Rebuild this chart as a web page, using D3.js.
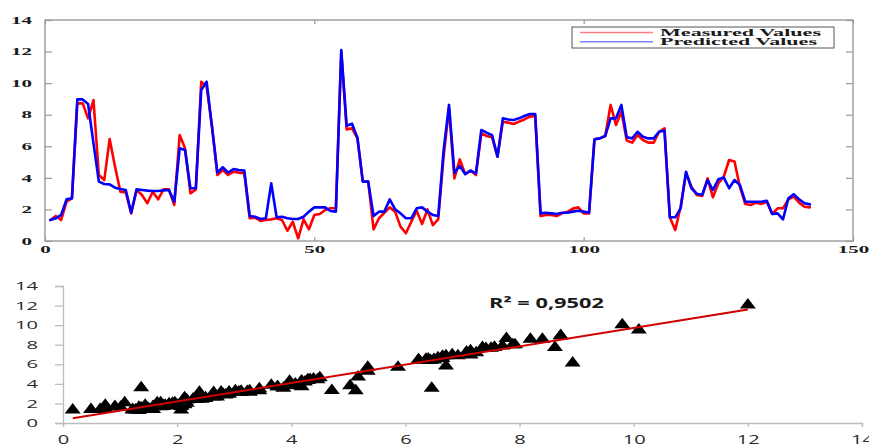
<!DOCTYPE html>
<html>
<head>
<meta charset="utf-8">
<script src="https://cdn.jsdelivr.net/npm/d3@7/dist/d3.min.js"></script>
<style>
  html, body { margin: 0; padding: 0; background: #fff; }
  svg { display: block; }
</style>
</head>
<body>
<svg id="chart" width="869" height="446"></svg>
<script>
// Sample index (1..142) for the time-series panel
const sampleIndex = d3.range(1, 143);

// Measured values per sample
const measured = [
  1.33, 1.58, 1.33, 2.50, 2.70, 8.72, 8.72, 7.77, 8.93, 4.18,
  3.86, 6.46, 4.71, 3.12, 3.08, 1.75, 3.23, 2.91, 2.39, 3.12,
  2.64, 3.27, 3.27, 2.28, 6.71, 5.87, 3.02, 3.27, 10.09, 9.80,
  7.24, 4.18, 4.50, 4.18, 4.39, 4.33, 4.29, 1.44, 1.48, 1.27,
  1.33, 1.37, 1.44, 1.33, 0.65, 1.22, 0.17, 1.37, 0.74, 1.65,
  1.71, 1.96, 2.07, 2.07, 12.00, 7.07, 7.14, 6.50, 3.76, 3.76,
  0.74, 1.44, 1.79, 2.13, 1.86, 0.91, 0.49, 1.22, 1.92, 1.08,
  2.00, 1.01, 1.37, 5.34, 8.40, 3.97, 5.17, 4.24, 4.46, 4.18,
  6.82, 6.65, 6.57, 5.34, 7.56, 7.50, 7.41, 7.56, 7.70, 7.88,
  7.92, 1.58, 1.65, 1.65, 1.58, 1.75, 1.85, 2.05, 2.13, 1.75,
  1.75, 6.44, 6.50, 6.65, 8.62, 7.35, 8.19, 6.36, 6.23, 6.71,
  6.40, 6.23, 6.23, 6.92, 7.14, 1.50, 0.70, 2.17, 4.29, 3.44,
  2.91, 2.85, 3.97, 2.77, 3.65, 4.07, 5.13, 5.03, 3.44, 2.34,
  2.28, 2.43, 2.34, 2.49, 1.71, 2.07, 2.07, 2.64, 2.81, 2.43,
  2.17, 2.13
];

// Predicted values per sample
const predicted = [
  1.33, 1.44, 1.65, 2.64, 2.70, 8.97, 8.97, 8.68, 6.19, 3.76,
  3.61, 3.59, 3.38, 3.29, 3.23, 1.79, 3.27, 3.23, 3.19, 3.17,
  3.17, 3.21, 3.23, 2.49, 5.87, 5.76, 3.34, 3.34, 9.56, 10.09,
  7.24, 4.33, 4.67, 4.33, 4.56, 4.50, 4.46, 1.58, 1.54, 1.39,
  1.44, 3.65, 1.50, 1.54, 1.44, 1.39, 1.39, 1.54, 1.86, 2.13,
  2.13, 2.13, 1.90, 1.86, 12.10, 7.30, 7.43, 6.55, 3.76, 3.76,
  1.58, 1.86, 1.86, 2.64, 2.01, 1.75, 1.44, 1.44, 2.07, 2.13,
  1.86, 1.65, 1.58, 5.76, 8.62, 4.33, 4.75, 4.24, 4.46, 4.29,
  7.03, 6.86, 6.71, 5.34, 7.77, 7.70, 7.66, 7.77, 7.92, 8.05,
  8.05, 1.75, 1.79, 1.75, 1.71, 1.79, 1.79, 1.86, 1.92, 1.86,
  1.79, 6.44, 6.50, 6.65, 7.77, 7.77, 8.62, 6.57, 6.50, 6.92,
  6.60, 6.50, 6.50, 6.92, 7.00, 1.50, 1.50, 2.07, 4.39, 3.34,
  3.00, 2.92, 3.86, 3.23, 3.91, 4.03, 3.34, 3.86, 3.55, 2.49,
  2.49, 2.49, 2.49, 2.55, 1.71, 1.75, 1.37, 2.70, 2.96, 2.64,
  2.39, 2.32
];

const seriesNames = ["Measured Values", "Predicted Values"];
const seriesColors = ["#ff0000", "#0000ff"];

const topXTicks = [0, 50, 100, 150];
const topYTicks = [0, 2, 4, 6, 8, 10, 12, 14];
const scatterXTicks = [0, 2, 4, 6, 8, 10, 12, 14];
const scatterYTicks = [0, 2, 4, 6, 8, 10, 12, 14];
const r2Label = "R² = 0,9502";

const svg = d3.select("#chart");

// Stretch text horizontally to a fixed width per character
function widen(sel, perChar) {
  sel.attr("textLength", function () { return this.textContent.length * perChar; })
     .attr("lengthAdjust", "spacingAndGlyphs");
}

// ---------- Time series panel ----------
const xTop = d3.scaleLinear().domain([0, 150]).range([45, 853]);
const yTop = d3.scaleLinear().domain([0, 14]).range([241, 20]);

const serif = "'Liberation Serif', 'DejaVu Serif', serif";
const frameColor = "#9a9a9a";

svg.append("rect")
  .attr("x", xTop(0)).attr("y", yTop(14))
  .attr("width", xTop(150) - xTop(0)).attr("height", yTop(0) - yTop(14))
  .attr("fill", "none").attr("stroke", frameColor).attr("stroke-width", 1.4);

function styleTopAxis(g, labelled) {
  g.select(".domain").remove();
  g.selectAll(".tick line").attr("stroke", frameColor).attr("stroke-width", 1.2);
  const t = g.selectAll(".tick text")
    .attr("font-family", serif).attr("font-weight", "bold")
    .attr("font-size", 10).attr("fill", "#1a1a1a");
  if (labelled) widen(t, 10.5);
}

svg.append("g").attr("transform", `translate(${xTop(0)},0)`)
  .call(d3.axisLeft(yTop).tickValues(topYTicks).tickSize(-7).tickPadding(13))
  .call(g => styleTopAxis(g, true));
svg.append("g").attr("transform", `translate(${xTop(150)},0)`)
  .call(d3.axisRight(yTop).tickValues(topYTicks).tickSize(-7).tickFormat(""))
  .call(g => styleTopAxis(g, false));
svg.append("g").attr("transform", `translate(0,${yTop(0)})`)
  .call(d3.axisBottom(xTop).tickValues(topXTicks).tickSize(-4).tickPadding(5))
  .call(g => styleTopAxis(g, true));
svg.append("g").attr("transform", `translate(0,${yTop(14)})`)
  .call(d3.axisTop(xTop).tickValues(topXTicks).tickSize(-4).tickFormat(""))
  .call(g => styleTopAxis(g, false));

const lineTop = values => d3.line()
  .x((d, i) => xTop(sampleIndex[i]))
  .y(d => yTop(d))(values);

[measured, predicted].forEach((vals, k) => {
  svg.append("path")
    .attr("d", lineTop(vals))
    .attr("fill", "none")
    .attr("stroke", seriesColors[k])
    .attr("stroke-width", 2.6)
    .attr("stroke-linejoin", "round")
    .attr("stroke-linecap", "round");
});

// Legend
const legend = svg.append("g");
legend.append("rect")
  .attr("x", 572).attr("y", 27).attr("width", 262).attr("height", 21)
  .attr("fill", "#fff").attr("stroke", "#555").attr("stroke-width", 1);
seriesNames.forEach((name, k) => {
  const ly = 32.5 + k * 9.2;
  legend.append("line")
    .attr("x1", 580).attr("x2", 653).attr("y1", ly).attr("y2", ly)
    .attr("stroke", seriesColors[k]).attr("stroke-opacity", 0.5).attr("stroke-width", 1.6);
  legend.append("text")
    .attr("x", 660).attr("y", ly + 3.4)
    .attr("font-family", serif).attr("font-weight", "bold").attr("font-size", 9.8)
    .attr("fill", "#1a1a1a")
    .attr("textLength", k === 0 ? 161 : 157).attr("lengthAdjust", "spacingAndGlyphs")
    .text(name);
});

// ---------- Scatter panel ----------
const xBot = d3.scaleLinear().domain([0, 14]).range([63, 862]);
const yBot = d3.scaleLinear().domain([0, 14]).range([423, 286]);
const sans = "'Open Sans', 'Liberation Sans', sans-serif";
const axisGrey = "#bdbdbd";

function styleBotAxis(g, size) {
  g.select(".domain").attr("stroke", axisGrey).attr("stroke-width", 1.3);
  g.selectAll(".tick line").attr("stroke", axisGrey).attr("stroke-width", 1.3);
  const t = g.selectAll(".tick text")
    .attr("font-family", sans).attr("font-size", size).attr("fill", "#2b2b2b");
  widen(t, 11.5);
}

svg.append("g").attr("transform", `translate(${xBot(0)},0)`)
  .call(d3.axisLeft(yBot).tickValues(scatterYTicks).tickSizeOuter(0).tickSize(8).tickPadding(17))
  .call(g => styleBotAxis(g, 11.5));
svg.append("g").attr("transform", `translate(0,${yBot(0)})`)
  .call(d3.axisBottom(xBot).tickValues(scatterXTicks).tickSizeOuter(0).tickSize(4).tickPadding(7))
  .call(g => styleBotAxis(g, 13.5));

const pairs = measured.map((m, i) => ({ m, p: predicted[i] }));

svg.append("g").selectAll("path")
  .data(pairs)
  .join("path")
  .attr("transform", d => `translate(${xBot(d.m)},${yBot(d.p)})`)
  .attr("d", "M0,-6.5L8,4L-8,4Z")
  .attr("fill", "#000");

// Least-squares trend of predicted against measured
const mx = d3.mean(measured), my = d3.mean(predicted);
const sxy = d3.sum(pairs, d => (d.m - mx) * (d.p - my));
const sxx = d3.sum(pairs, d => (d.m - mx) ** 2);
const slope = sxy / sxx, intercept = my - slope * mx;
const xMin = d3.min(measured), xMax = d3.max(measured);

svg.append("line")
  .attr("x1", xBot(xMin)).attr("y1", yBot(intercept + slope * xMin))
  .attr("x2", xBot(xMax)).attr("y2", yBot(intercept + slope * xMax))
  .attr("stroke", "#d00000").attr("stroke-width", 2);

svg.append("text")
  .attr("x", 489).attr("y", 308)
  .attr("font-family", sans).attr("font-weight", "bold").attr("font-size", 13.5)
  .attr("fill", "#1a1a1a")
  .attr("textLength", 115).attr("lengthAdjust", "spacingAndGlyphs")
  .text(r2Label);
</script>
</body>
</html>
